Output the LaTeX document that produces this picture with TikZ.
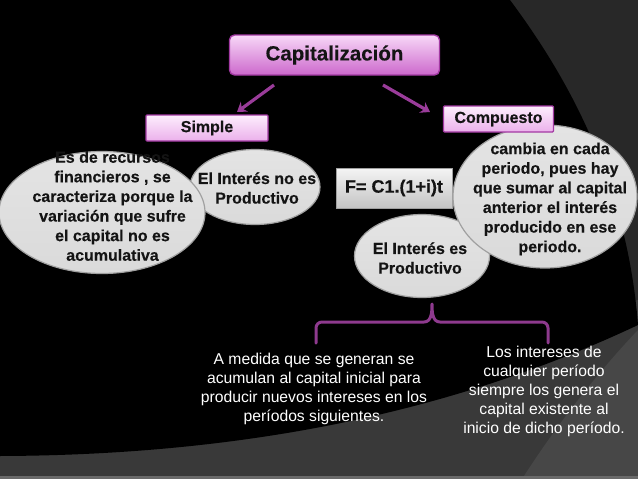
\documentclass[tikz,border=0pt]{standalone}
\usepackage{fontspec}
\setmainfont{Liberation Sans}
\newfontfamily\heavysans{Liberation Sans}[BoldFeatures={FakeBold=0.3}]
\usetikzlibrary{shapes.geometric,arrows.meta}
\definecolor{bgTR}{HTML}{282828}
\definecolor{bgB}{HTML}{393939}
\definecolor{bgBR}{HTML}{474747}
\definecolor{bgLine}{HTML}{6A6A6A}
\definecolor{capTop}{HTML}{F8D8F8}
\definecolor{capBot}{HTML}{CC68CC}
\definecolor{capBorder}{HTML}{A33AA3}
\definecolor{boxTop}{HTML}{FDEEFD}
\definecolor{boxBot}{HTML}{EBB0EB}
\definecolor{bubbleFill}{HTML}{DADADA}
\definecolor{bubbleTop}{HTML}{E4E4E4}
\definecolor{bubbleBorder}{HTML}{A0A0A0}
\definecolor{fTop}{HTML}{F4F4F4}
\definecolor{fBot}{HTML}{C4C4C4}
\definecolor{arrowC}{HTML}{9A3C9A}
\definecolor{braceC}{HTML}{8E3A8E}
\definecolor{ink}{HTML}{141414}
\tikzset{
  capbox/.style={rectangle, rounded corners=5pt, draw=capBorder, line width=1.4pt,
    top color=capTop, bottom color=capBot, inner sep=0pt, text=ink,
    font=\heavysans\bfseries\fontsize{20.5}{24}\selectfont},
  catbox/.style={rectangle, rounded corners=1pt, draw=capBorder, line width=1.2pt,
    top color=boxTop, bottom color=boxBot, inner sep=0pt, text=ink,
    font=\heavysans\bfseries\fontsize{16}{19}\selectfont},
  fbox/.style={rectangle, draw=bubbleBorder, line width=1pt,
    top color=fTop, bottom color=fBot, inner sep=0pt, text=ink,
    font=\heavysans\bfseries\fontsize{18}{21}\selectfont},
  bubble/.style={ellipse, draw=bubbleBorder, line width=1.2pt,
    top color=bubbleTop, bottom color=bubbleFill, inner sep=0pt},
  btxt/.style={font=\heavysans\bfseries\fontsize{16}{19.6}\selectfont, text=ink, align=center, inner sep=0pt},
  wtxt/.style={font=\fontsize{15.7}{19}\selectfont, text=white, align=center, inner sep=0pt},
  arr/.style={draw=arrowC, line width=3.2pt, -{Stealth[length=9pt,width=12pt]}},
  bracel/.style={draw=braceC, line width=3pt, line cap=round, line join=round}
}
\begin{document}
\begin{tikzpicture}[x=1pt,y=-1pt]
% background
\useasboundingbox (0,0) rectangle (638,479);
\fill[bgTR] (0,0) rectangle (638,479);
\fill[bgB] (0,479) -- (0,420) -- (638,300) -- (638,479) -- cycle;
\fill[bgBR] (522,479) .. controls (560,420) and (600,370) .. (638,330) -- (638,479) -- cycle;
\fill[black] (0,0) -- (510,0) .. controls (556,62) and (626,170) .. (638,325)
   .. controls (500,390) and (300,455) .. (0,456) -- cycle;
\fill[bgLine] (0,476) rectangle (638,479);

% arrows
\coordinate (a1s) at (274,85);
\coordinate (a1e) at (237,112);
\coordinate (a2s) at (383,85);
\coordinate (a2e) at (430,112);
\draw[arr] (a1s) -- (a1e);
\draw[arr] (a2s) -- (a2e);

% simple side
\node[bubble, minimum width=130pt, minimum height=75pt] (nop) at (255,187) {};
\node[bubble, minimum width=206pt, minimum height=122pt] (rec) at (102,212.5) {};
\node[btxt] (rectxt) at (112.5,206) {Es de recursos\\financieros , se\\caracteriza porque la\\variación que sufre\\el capital no es\\acumulativa};
\node[btxt] (noptxt) at (257,188) {El Interés no es\\Productivo};
\node[catbox, minimum width=122pt, minimum height=26pt] (simple) at (207,128) {Simple};

% compuesto side
\node[bubble, minimum width=135pt, minimum height=83pt] (prod) at (422,256) {};
\node[bubble, minimum width=184pt, minimum height=143pt] (camb) at (545,196.5) {};
\node[btxt] (prodtxt) at (420,258) {El Interés es\\Productivo};
\node[btxt] (cambtxt) at (550,199) {cambia en cada\\periodo, pues hay\\que sumar al capital\\anterior el interés\\producido en ese\\periodo.};
\node[catbox, minimum width=110pt, minimum height=26pt] (comp) at (498.5,119) {Compuesto};
\node[fbox, minimum width=116pt, minimum height=40pt] (form) at (394,188) {F= C1.(1+i)t};

% title
\node[capbox, minimum width=210pt, minimum height=40pt] (cap) at (334.5,55) {Capitalización};

% brace
\coordinate (bl) at (316,343);
\coordinate (br) at (548,343);
\coordinate (bt) at (432,304);
\draw[bracel] (bl) -- (316,328) to[out=90,in=180] (322,322) -- (424,322)
   to[out=0,in=-90] (bt) to[out=-90,in=180] (440,322) -- (542,322)
   to[out=0,in=90] (548,328) -- (br);

% bottom texts
\node[wtxt] (med) at (314,388.5) {A medida que se generan se\\acumulan al capital inicial para\\producir nuevos intereses en los\\períodos siguientes.};
\node[wtxt] (los) at (544,391) {Los intereses de\\cualquier período\\siempre los genera el\\capital existente al\\inicio de dicho período.};
\end{tikzpicture}
\end{document}
